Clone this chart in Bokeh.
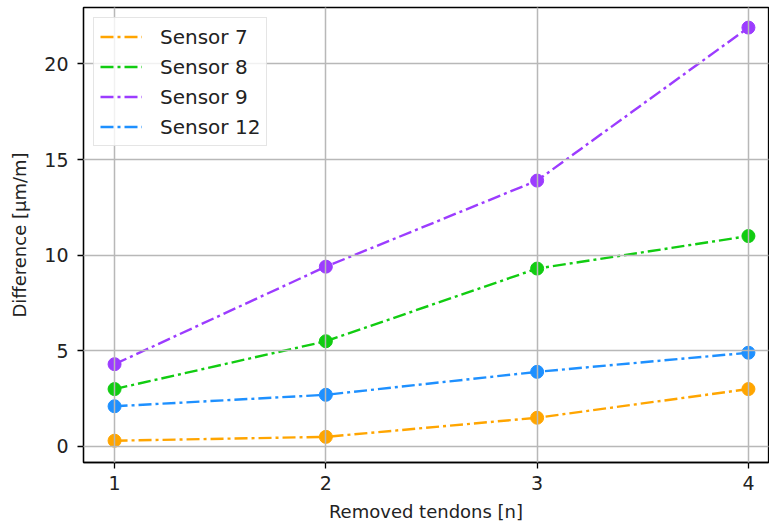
from bokeh.plotting import figure
from bokeh.models import FixedTicker, Range1d, Legend, LegendItem
from bokeh.embed import file_html
from bokeh.resources import INLINE

# Removed tendons and the measured strain difference per sensor
removed_tendons = [1, 2, 3, 4]
sensor_7 = [0.3, 0.5, 1.5, 3.0]
sensor_8 = [3.0, 5.5, 9.3, 11.0]
sensor_9 = [4.3, 9.4, 13.9, 21.9]
sensor_12 = [2.1, 2.7, 3.9, 4.9]

series = [
    ("Sensor 7", sensor_7, "#ffa500"),
    ("Sensor 8", sensor_8, "#11cc11"),
    ("Sensor 9", sensor_9, "#9c3cff"),
    ("Sensor 12", sensor_12, "#1e90ff"),
]

FONT = "DejaVu Sans"
SIZE = "19px"
LABEL_SIZE = "18px"
LEGEND_SIZE = "20px"

p = figure(
    width=769, height=527,
    output_backend="svg", toolbar_location=None,
    x_range=Range1d(0.853, 4.095), y_range=Range1d(-0.84, 22.95),
    min_border_left=83, min_border_right=1, min_border_top=7, min_border_bottom=65,
)
p.background_fill_color = "white"
p.border_fill_color = "white"
p.outline_line_color = "black"
p.outline_line_width = 1.3

items = []
for name, vals, color in series:
    ln = p.line(removed_tendons, vals, line_color=color, line_width=2.4,
                line_dash="13 4 3 4")
    p.scatter(removed_tendons, vals, size=13, fill_color=color, line_color=color)
    items.append(LegendItem(label=name, renderers=[ln]))

legend = Legend(items=items, location="top_left")
legend.label_text_font = FONT
legend.label_text_font_size = LEGEND_SIZE
legend.label_text_color = "#222222"
legend.glyph_width = 42
legend.glyph_height = 25
legend.label_standoff = 18
legend.spacing = 5
legend.padding = 6
legend.margin = 10
legend.border_line_color = "#cccccc"
legend.border_line_width = 1.2
legend.background_fill_alpha = 0.8
p.add_layout(legend)

for g in (p.xgrid, p.ygrid):
    g.grid_line_color = "#b8b8b8"
    g.grid_line_width = 1.5
    g.level = "overlay"

p.xaxis.ticker = FixedTicker(ticks=removed_tendons)
p.yaxis.ticker = FixedTicker(ticks=[0, 5, 10, 15, 20])
p.xaxis.axis_label = "Removed tendons [n]"
p.yaxis.axis_label = "Difference [μm/m]"

for ax in (p.xaxis[0], p.yaxis[0]):
    ax.axis_line_color = "black"
    ax.axis_line_width = 1.3
    ax.major_tick_line_color = "black"
    ax.major_tick_line_width = 1.3
    ax.major_tick_out = 6
    ax.major_tick_in = 0
    ax.minor_tick_line_color = None
    ax.major_label_text_font = FONT
    ax.major_label_text_font_size = SIZE
    ax.major_label_text_color = "#222222"
    ax.axis_label_text_font = FONT
    ax.axis_label_text_font_size = LABEL_SIZE
    ax.axis_label_text_font_style = "normal"
    ax.axis_label_text_color = "#222222"

p.xaxis.major_label_standoff = 7
p.yaxis.major_label_standoff = 9
p.xaxis.axis_label_standoff = 8
p.yaxis.axis_label_standoff = 11

open("out.html", "w").write(file_html(p, INLINE))
